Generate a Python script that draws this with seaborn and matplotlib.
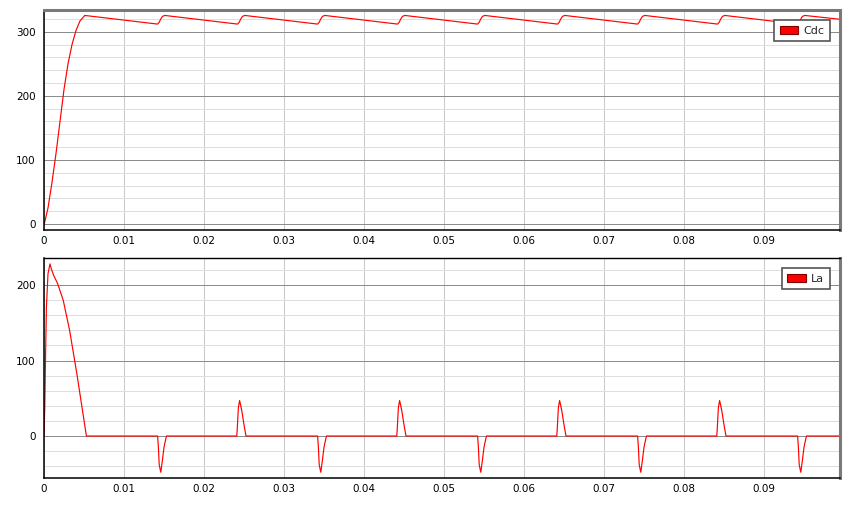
import seaborn as sns
import matplotlib.pyplot as plt
import matplotlib.patches as mpatches
from matplotlib.ticker import MultipleLocator

# ---------------- data ----------------

# Cdc : capacitor voltage
cdc_rise_t = [0, 0.0005, 0.001, 0.0015, 0.002, 0.0025, 0.003, 0.0035, 0.004, 0.0045, 0.0051]
cdc_rise_v = [-2, 25, 65, 110, 160, 210, 250, 280, 302, 317, 325.5]
cdc_dip_t = [0.0142, 0.0242, 0.0342, 0.0442, 0.0542, 0.0642, 0.0742, 0.0842, 0.0942]
cdc_charge_off = [0, 0.0002, 0.0004, 0.0006, 0.0009]
cdc_charge_v = [312, 315, 320, 324, 325.5]
cdc_end_t = 0.0995
cdc_end_v = 319.5

# La : inductor current
la_start_t = [0, 0.0001, 0.0002, 0.0003, 0.0005, 0.00075, 0.0009, 0.0012, 0.0017, 0.0024, 0.0032, 0.0041, 0.0053]
la_start_v = [0, 40, 110, 170, 215, 228, 222, 213, 202, 180, 140, 83, 0]
la_neg_t = [0.0142, 0.0342, 0.0542, 0.0742, 0.0942]
la_neg_off = [0, 0.0001, 0.0002, 0.0004, 0.0006, 0.0008, 0.0011]
la_neg_v = [0, -15, -38, -48, -32, -15, 0]
la_pos_t = [0.0241, 0.0441, 0.0641, 0.0841]
la_pos_off = [0, 0.0001, 0.0002, 0.00035, 0.0006, 0.0009, 0.00115]
la_pos_v = [0, 18, 38, 47, 35, 15, 0]
la_end_t = 0.0995

x_ticks = [0, 0.01, 0.02, 0.03, 0.04, 0.05, 0.06, 0.07, 0.08, 0.09]
x_labels = ['0', '0.01', '0.02', '0.03', '0.04', '0.05', '0.06', '0.07', '0.08', '0.09']

# ---------------- build the traces ----------------
cdc_t = list(cdc_rise_t)
cdc_v = list(cdc_rise_v)
for t0 in cdc_dip_t:
    cdc_t += [t0 + o for o in cdc_charge_off]
    cdc_v += cdc_charge_v
cdc_t.append(cdc_end_t)
cdc_v.append(cdc_end_v)

pulses = [(t0, la_neg_off, la_neg_v) for t0 in la_neg_t] + [(t0, la_pos_off, la_pos_v) for t0 in la_pos_t]
pulses.sort(key=lambda p: p[0])
la_t = list(la_start_t)
la_v = list(la_start_v)
for t0, off, vals in pulses:
    la_t += [t0 + o for o in off]
    la_v += vals
la_t.append(la_end_t)
la_v.append(0)

# ---------------- plot ----------------
sns.set_style("white")
plt.rcParams['font.family'] = ['DejaVu Sans']

fig = plt.figure(figsize=(8.5, 5.09), dpi=100)
ax1 = fig.add_axes([44/850, 1-230/509, 796/850, 220/509])
ax2 = fig.add_axes([44/850, 1-478/509, 796/850, 220/509])


def style(ax, ylim, yticks, top_gray):
    ax.set_xlim(0, 0.0995)
    ax.set_ylim(*ylim)
    ax.set_xticks(x_ticks)
    ax.set_xticklabels(x_labels)
    ax.set_yticks(yticks)
    ax.yaxis.set_minor_locator(MultipleLocator(20))
    ax.tick_params(axis='both', which='both', length=0, labelsize=7.5, colors='black')
    ax.tick_params(axis='x', pad=4)
    ax.tick_params(axis='y', pad=6)
    ax.grid(False)
    ax.set_axisbelow(True)
    ax.yaxis.grid(True, which='minor', color='#dedede', lw=0.72)
    ax.xaxis.grid(True, which='major', color='#c8c8c8', lw=0.72)
    ax.yaxis.grid(True, which='major', color='#8c8c8c', lw=0.72)
    for s in ['left', 'bottom']:
        ax.spines[s].set_color('black')
        ax.spines[s].set_linewidth(1.1)
    ax.spines['right'].set_color('#7a7a7a')
    ax.spines['right'].set_linewidth(2.2)
    if top_gray:
        ax.spines['top'].set_color('#7a7a7a')
        ax.spines['top'].set_linewidth(2.2)
    else:
        ax.spines['top'].set_color('black')
        ax.spines['top'].set_linewidth(1.0)
    ax.set_xlabel('')
    ax.set_ylabel('')


sns.lineplot(x=cdc_t, y=cdc_v, ax=ax1, color='#ff0000', lw=0.85, sort=False, estimator=None, legend=False)
sns.lineplot(x=la_t, y=la_v, ax=ax2, color='#ff0000', lw=0.85, sort=False, estimator=None, legend=False)

style(ax1, (-9.4, 334), [0, 100, 200, 300], True)
style(ax2, (-55.6, 235.8), [0, 100, 200], False)

for ax, name in [(ax1, 'Cdc'), (ax2, 'La')]:
    h = mpatches.Patch(facecolor='#ff0000', edgecolor='#800000', lw=0.8, label=name)
    leg = ax.legend(handles=[h], loc='upper right', bbox_to_anchor=(1 - 10/796, 1 - 10/220),
                    borderaxespad=0, fancybox=False, framealpha=1, fontsize=8,
                    handlelength=1.7, handleheight=0.75, handletextpad=0.45,
                    borderpad=0.5)
    leg.get_frame().set_edgecolor('#555555')
    leg.get_frame().set_linewidth(1.2)

fig.savefig('out.png', dpi=100)
